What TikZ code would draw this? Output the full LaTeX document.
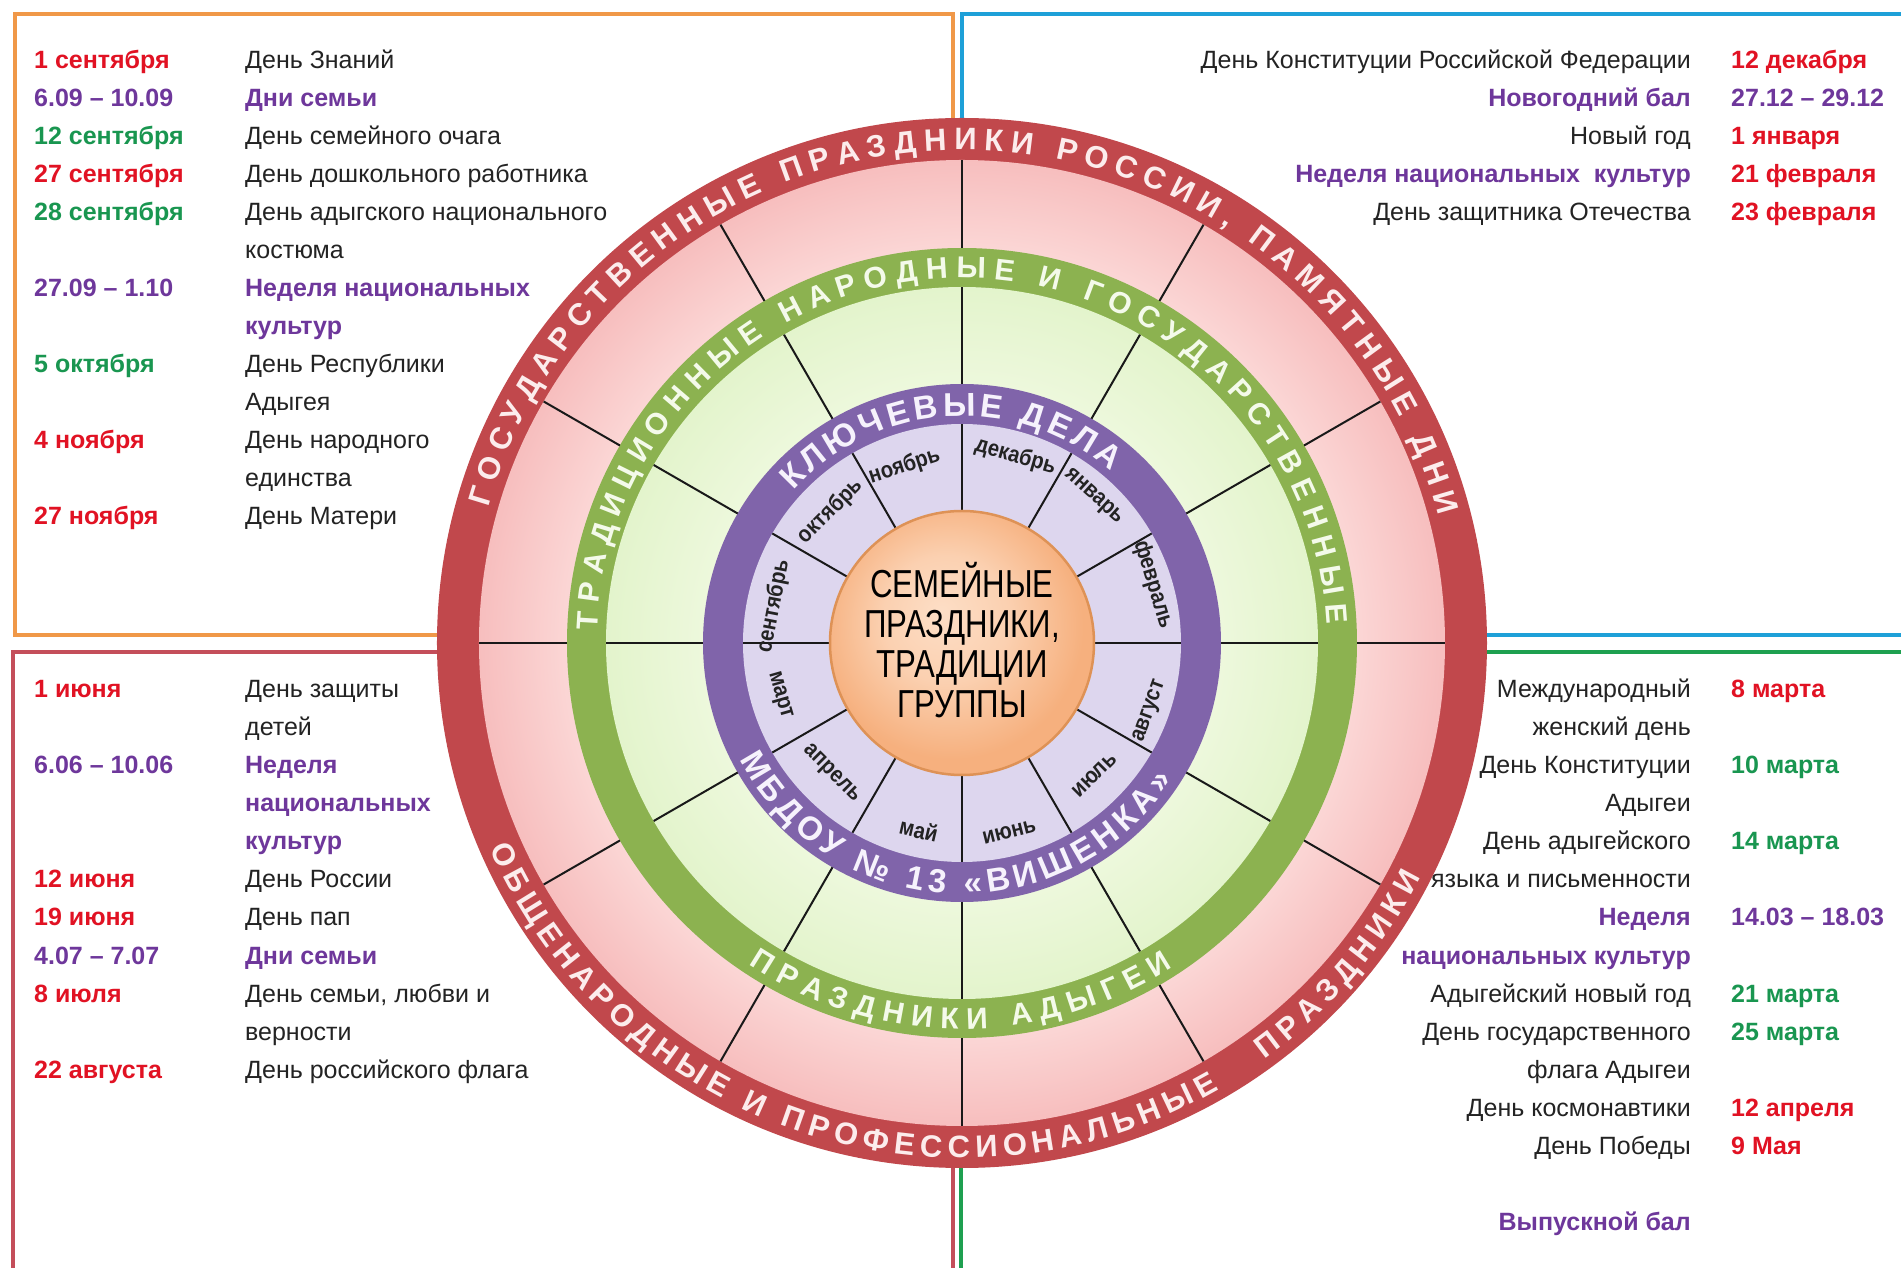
\documentclass[tikz,border=0pt]{standalone}
\usepackage{fontspec}
\setmainfont{Liberation Sans}
\newfontfamily\narrowfnt{Liberation Sans}[FakeStretch=0.8]
\newfontfamily\monthfnt{Liberation Sans}[FakeStretch=0.88]
\usetikzlibrary{decorations.text}

\definecolor{bandred}{RGB}{193,72,76}
\definecolor{pinkin}{RGB}{251,214,213}
\definecolor{pinkout}{RGB}{247,190,190}
\definecolor{bandgreen}{RGB}{140,178,80}
\definecolor{lgin}{RGB}{237,248,220}
\definecolor{lgout}{RGB}{227,244,204}
\definecolor{bandpurple}{RGB}{128,100,170}
\definecolor{lpurple}{RGB}{221,214,238}
\definecolor{peachin}{RGB}{253,222,198}
\definecolor{peachout}{RGB}{246,176,126}
\definecolor{peachrim}{RGB}{222,146,86}
\definecolor{txtred}{RGB}{225,18,35}
\definecolor{txtgreen}{RGB}{25,150,80}
\definecolor{txtpurple}{RGB}{110,55,155}
\definecolor{txtblack}{RGB}{35,35,35}
\definecolor{frameorange}{RGB}{240,152,72}
\definecolor{frameblue}{RGB}{30,160,216}
\definecolor{framered}{RGB}{196,78,90}
\definecolor{framegreen}{RGB}{30,160,80}
\definecolor{redtxt}{RGB}{252,236,236}
\definecolor{greentxt}{RGB}{244,250,234}
\definecolor{purpletxt}{RGB}{246,242,252}

\pgfdeclareradialshading{pinkring}{\pgfpointorigin}{color(0bp)=(pinkin); color(20.44bp)=(pinkin); color(25bp)=(pinkout); color(50bp)=(pinkout)}
\pgfdeclareradialshading{greenring}{\pgfpointorigin}{color(0bp)=(lgin); color(18.2bp)=(lgin); color(25bp)=(lgout); color(50bp)=(lgout)}
\pgfdeclareradialshading{peachball}{\pgfpoint{-4bp}{6bp}}{color(0bp)=(peachin); color(12bp)=(peachin!70!peachout); color(25bp)=(peachout); color(50bp)=(peachout)}

\begin{document}
\begin{tikzpicture}[x=1pt,y=1pt,
  frame/.style={line width=4.5pt},
  spoke/.style={line width=2pt, draw=black!90},
  dt/.style={anchor=base west, inner sep=0pt, font=\bfseries\fontsize{25}{30}\selectfont},
  tl/.style={anchor=base west, inner sep=0pt, font=\fontsize{25}{30}\selectfont, text=txtblack},
  tr/.style={anchor=base east, inner sep=0pt, font=\fontsize{25}{30}\selectfont, text=txtblack},
  pl/.style={anchor=base west, inner sep=0pt, font=\bfseries\fontsize{25}{30}\selectfont, text=txtpurple},
  pr/.style={anchor=base east, inner sep=0pt, font=\bfseries\fontsize{25}{30}\selectfont, text=txtpurple},
  month/.style={inner sep=0pt, font=\monthfnt\bfseries\fontsize{23}{24}\selectfont, text=txtblack}
]
\useasboundingbox (-962,-625) rectangle (939,643);
\fill[white] (-962,-625) rectangle (939,643);

% ---------- frames ----------
\draw[frame, frameorange] (-947,8) rectangle (-9,629);
\draw[frame, frameblue] (945,8) -- (0,8) -- (0,629) -- (945,629);
\draw[frame, framered] (-949,-640) -- (-949,-9) -- (-9,-9) -- (-9,-640);
\draw[frame, framegreen] (945,-9) -- (-1,-9) -- (-1,-640);

% ---------- top-left block ----------
\node[dt, text=txtred]    (d1) at (-928,574) {1 сентября};
\node[tl]                 (t1) at (-717,574) {День Знаний};
\node[dt, text=txtpurple] (d2) at (-928,536) {6.09 – 10.09};
\node[pl]                 (t2) at (-717,536) {Дни семьи};
\node[dt, text=txtgreen]  (d3) at (-928,498) {12 сентября};
\node[tl]                 (t3) at (-717,498) {День семейного очага};
\node[dt, text=txtred]    (d4) at (-928,460) {27 сентября};
\node[tl]                 (t4) at (-717,460) {День дошкольного работника};
\node[dt, text=txtgreen]  (d5) at (-928,422) {28 сентября};
\node[tl]                 (t5) at (-717,422) {День адыгского национального};
\node[tl]                 (t5b) at (-717,384) {костюма};
\node[dt, text=txtpurple] (d6) at (-928,346) {27.09 – 1.10};
\node[pl]                 (t6) at (-717,346) {Неделя национальных};
\node[pl]                 (t6b) at (-717,308) {культур};
\node[dt, text=txtgreen]  (d7) at (-928,270) {5 октября};
\node[tl]                 (t7) at (-717,270) {День Республики};
\node[tl]                 (t7b) at (-717,232) {Адыгея};
\node[dt, text=txtred]    (d8) at (-928,194) {4 ноября};
\node[tl]                 (t8) at (-717,194) {День народного};
\node[tl]                 (t8b) at (-717,156) {единства};
\node[dt, text=txtred]    (d9) at (-928,118) {27 ноября};
\node[tl]                 (t9) at (-717,118) {День Матери};

% ---------- top-right block ----------
\node[tr]                 (r1) at (729,574) {День Конституции Российской Федерации};
\node[dt, text=txtred]    (e1) at (769,574) {12 декабря};
\node[pr]                 (r2) at (729,536) {Новогодний бал};
\node[dt, text=txtpurple] (e2) at (769,536) {27.12 – 29.12};
\node[tr]                 (r3) at (729,498) {Новый год};
\node[dt, text=txtred]    (e3) at (769,498) {1 января};
\node[pr]                 (r4) at (729,460) {Неделя национальных\ \ культур};
\node[dt, text=txtred]    (e4) at (769,460) {21 февраля};
\node[tr]                 (r5) at (729,422) {День защитника Отечества};
\node[dt, text=txtred]    (e5) at (769,422) {23 февраля};

% ---------- bottom-left block ----------
\node[dt, text=txtred]    (f1) at (-928,-55) {1 июня};
\node[tl]                 (g1) at (-717,-55) {День защиты};
\node[tl]                 (g1b) at (-717,-93) {детей};
\node[dt, text=txtpurple] (f2) at (-928,-131) {6.06 – 10.06};
\node[pl]                 (g2) at (-717,-131) {Неделя};
\node[pl]                 (g2b) at (-717,-169) {национальных};
\node[pl]                 (g2c) at (-717,-207) {культур};
\node[dt, text=txtred]    (f3) at (-928,-245) {12 июня};
\node[tl]                 (g3) at (-717,-245) {День России};
\node[dt, text=txtred]    (f4) at (-928,-283) {19 июня};
\node[tl]                 (g4) at (-717,-283) {День пап};
\node[dt, text=txtpurple] (f5) at (-928,-321) {4.07 – 7.07};
\node[pl]                 (g5) at (-717,-321) {Дни семьи};
\node[dt, text=txtred]    (f6) at (-928,-359) {8 июля};
\node[tl]                 (g6) at (-717,-359) {День семьи, любви и};
\node[tl]                 (g6b) at (-717,-397) {верности};
\node[dt, text=txtred]    (f7) at (-928,-435) {22 августа};
\node[tl]                 (g7) at (-717,-435) {День российского флага};

% ---------- bottom-right block ----------
\node[tr]                 (h1) at (729,-55) {Международный};
\node[dt, text=txtred]    (k1) at (769,-55) {8 марта};
\node[tr]                 (h1b) at (729,-93) {женский день};
\node[tr]                 (h2) at (729,-131) {День Конституции};
\node[dt, text=txtgreen]  (k2) at (769,-131) {10 марта};
\node[tr]                 (h2b) at (729,-169) {Адыгеи};
\node[tr]                 (h3) at (729,-207) {День адыгейского};
\node[dt, text=txtgreen]  (k3) at (769,-207) {14 марта};
\node[tr]                 (h3b) at (729,-245) {языка и письменности};
\node[pr]                 (h4) at (729,-283) {Неделя};
\node[dt, text=txtpurple] (k4) at (769,-283) {14.03 – 18.03};
\node[pr]                 (h4b) at (729,-321) {национальных культур};
\node[tr]                 (h5) at (729,-359) {Адыгейский новый год};
\node[dt, text=txtgreen]  (k5) at (769,-359) {21 марта};
\node[tr]                 (h6) at (729,-397) {День государственного};
\node[dt, text=txtgreen]  (k6) at (769,-397) {25 марта};
\node[tr]                 (h6b) at (729,-435) {флага Адыгеи};
\node[tr]                 (h7) at (729,-473) {День космонавтики};
\node[dt, text=txtred]    (k7) at (769,-473) {12 апреля};
\node[tr]                 (h8) at (729,-511) {День Победы};
\node[dt, text=txtred]    (k8) at (769,-511) {9 Мая};
\node[pr]                 (h9) at (729,-587) {Выпускной бал};

% ---------- circle diagram ----------
\fill[bandred] (0,0) circle[radius=525];
\shade[shading=pinkring] (0,0) circle[radius=483];
\fill[bandgreen] (0,0) circle[radius=395];
\shade[shading=greenring] (0,0) circle[radius=356];
\fill[bandpurple] (0,0) circle[radius=259];
\fill[lpurple] (0,0) circle[radius=219];

\foreach \a in {0,30,...,330}{
  \draw[spoke] (\a:132) -- (\a:219);
  \draw[spoke] (\a:259) -- (\a:356);
  \draw[spoke] (\a:395) -- (\a:483);
}

\shade[shading=peachball] (0,0) circle[radius=132];
\draw[line width=2.5pt, peachrim] (0,0) circle[radius=132];

\node[align=center, inner sep=0pt, text=black,
      font=\narrowfnt\fontsize{39}{40}\selectfont] (centre) at (0,3)
  {СЕМЕЙНЫЕ\\ПРАЗДНИКИ,\\ТРАДИЦИИ\\ГРУППЫ};

% ---------- month labels ----------
\node[month, rotate=79]  (m9)  at (169:192) {сентябрь};
\node[month, rotate=45]  (m10) at (135:186) {октябрь};
\node[month, rotate=18]  (m11) at (108:186) {ноябрь};
\node[month, rotate=-16] (m12) at (74:194)  {декабрь};
\node[month, rotate=-42] (m1)  at (48:197)  {январь};
\node[month, rotate=-73] (m2)  at (17:200)  {февраль};
\node[month, rotate=70]  (m8)  at (-20:200) {август};
\node[month, rotate=45]  (m7)  at (-45:187) {июль};
\node[month, rotate=14]  (m6)  at (-76:195) {июнь};
\node[month, rotate=-13] (m5)  at (-103:192) {май};
\node[month, rotate=-45] (m4)  at (-135:185) {апрель};
\node[month, rotate=-74] (m3)  at (-164:190) {март};

% ---------- band texts ----------
\path[decorate, decoration={text along path, text align={fit to path},
  text={|\fontsize{31}{31}\selectfont\bfseries\color{redtxt}|ГОСУДАРСТВЕННЫЕ ПРАЗДНИКИ РОССИИ, ПАМЯТНЫЕ ДНИ}}]
  (164:493) arc[start angle=164, end angle=15, radius=493];
\path[decorate, decoration={text along path, text align={fit to path},
  text={|\fontsize{31}{31}\selectfont\bfseries\color{redtxt}|ОБЩЕНАРОДНЫЕ И ПРОФЕССИОНАЛЬНЫЕ}}]
  (203.5:515) arc[start angle=203.5, end angle=300, radius=515];
\path[decorate, decoration={text along path, text align={fit to path},
  text={|\fontsize{31}{31}\selectfont\bfseries\color{redtxt}|ПРАЗДНИКИ}}]
  (306:515) arc[start angle=306, end angle=333, radius=515];

\path[decorate, decoration={text along path, text align={fit to path},
  text={|\fontsize{30}{30}\selectfont\bfseries\color{greentxt}|ТРАДИЦИОННЫЕ НАРОДНЫЕ И ГОСУДАРСТВЕННЫЕ}}]
  (178:365) arc[start angle=178, end angle=3, radius=365];
\path[decorate, decoration={text along path, text align={fit to path},
  text={|\fontsize{30}{30}\selectfont\bfseries\color{greentxt}|ПРАЗДНИКИ АДЫГЕИ}}]
  (236.5:386) arc[start angle=236.5, end angle=303, radius=386];

\path[decorate, decoration={text along path, text align={fit to path},
  text={|\fontsize{33}{33}\selectfont\bfseries\color{purpletxt}|КЛЮЧЕВЫЕ ДЕЛА}}]
  (138:227) arc[start angle=138, end angle=49, radius=227];
\path[decorate, decoration={text along path, text align={fit to path},
  text={|\fontsize{33}{33}\selectfont\bfseries\color{purpletxt}|МБДОУ № 13 «ВИШЕНКА»}}]
  (207.5:251) arc[start angle=207.5, end angle=327, radius=251];
\end{tikzpicture}
\end{document}
